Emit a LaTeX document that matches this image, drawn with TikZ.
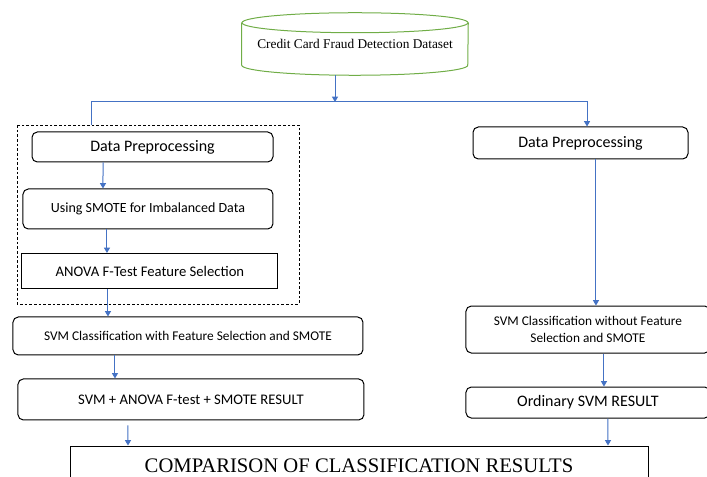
\documentclass[tikz,border=0pt]{standalone}
\usepackage{fontspec}
\setmainfont{Liberation Serif}
\setsansfont{Carlito}
\usetikzlibrary{arrows.meta}

\definecolor{flowblue}{HTML}{4472C4}
\definecolor{dbgreen}{HTML}{70AD47}

\tikzset{
  procbox/.style={draw, rounded corners=4pt, line width=0.75pt, align=center, inner sep=0pt},
  flatbox/.style={draw, line width=0.75pt, align=center, inner sep=0pt},
  flow/.style={draw=flowblue, line width=0.75pt, -{Triangle[length=4pt,width=4.5pt]}},
  dbline/.style={draw=dbgreen, line width=0.75pt},
}

\begin{document}
\begin{tikzpicture}[x=0.75pt, y=-0.75pt, node distance=46.5pt]
\useasboundingbox (0,0) rectangle (707,477);

% dataset
\node (data) [minimum width=169.5pt, minimum height=46.5pt, font=\fontsize{10}{12}\selectfont] at (355,44) {Credit Card Fraud Detection Dataset};
\draw[dbline] ([yshift=-7.5pt]data.north) ellipse [x radius=84.75pt, y radius=7.5pt];
\draw[dbline] ([yshift=-7.5pt]data.north west) -- ([yshift=7.5pt]data.south west) arc [start angle=180, end angle=360, x radius=84.75pt, y radius=7.5pt] -- ([yshift=-7.5pt]data.north east);

% left branch
\draw[dash pattern=on 2pt off 1.5pt, line width=0.6pt] (17,125) rectangle (299,304);
\node (lprep) [procbox, minimum width=180.75pt, minimum height=22.5pt, font=\sffamily\fontsize{12}{14}\selectfont] at (152.5,147) {Data Preprocessing};
\node (smote) [procbox, below of=lprep, xshift=-3.4pt, minimum width=187.5pt, minimum height=30pt, font=\sffamily\fontsize{10.5}{13}\selectfont] {Using SMOTE for Imbalanced Data};
\node (anova) [flatbox, below of=smote, xshift=1.5pt, minimum width=192pt, minimum height=26.25pt, font=\sffamily\fontsize{11}{13}\selectfont] {ANOVA F-Test Feature Selection};
\node (lsvm) [procbox, below of=anova, xshift=28.5pt, yshift=-2.25pt, minimum width=262.5pt, minimum height=28.5pt, font=\sffamily\fontsize{10}{12}\selectfont] {SVM Classification with Feature Selection and SMOTE};
\node (lres) [procbox, below of=lsvm, xshift=2.25pt, yshift=-1.1pt, minimum width=259.5pt, minimum height=30.75pt, font=\sffamily\fontsize{11}{13}\selectfont] {SVM + ANOVA F-test + SMOTE RESULT};

% right branch
\node (rprep) [procbox, minimum width=161.25pt, minimum height=24pt, font=\sffamily\fontsize{12}{14}\selectfont] at (580.5,143) {Data Preprocessing};
\node (rsvm) [procbox, below of=rprep, xshift=5.6pt, yshift=-93.4pt, minimum width=183pt, minimum height=35.25pt, font=\sffamily\fontsize{10}{12.75}\selectfont] {SVM Classification without Feature\\Selection and SMOTE};
\node (rres) [procbox, below of=rsvm, yshift=-8.25pt, minimum width=183pt, minimum height=23.25pt, font=\sffamily\fontsize{12}{14}\selectfont] {Ordinary SVM RESULT};

% comparison
\node (cmp) [flatbox, minimum width=433.5pt, minimum height=30pt, font=\rmfamily\fontsize{15.5}{18}\selectfont] at (359,466) {COMPARISON OF CLASSIFICATION RESULTS};

% connectors
\coordinate (split) at (335,102);
\coordinate (lin) at (91,125);
\coordinate (rin) at ([xshift=4.9pt]rprep.north);
\draw[flow] (data.south -| split) -- (split);
\draw[flow] (lin) |- (rin |- split) -- (rin);
\draw[flow] ([xshift=-37.1pt]lprep.south) -- ([xshift=-33.75pt]smote.north);
\draw[flow] ([xshift=-30.75pt]smote.south) -- ([xshift=-32.25pt]anova.north);
\draw[flow] ([xshift=-31.5pt]anova.south) -- ([xshift=-60pt]lsvm.north);
\draw[flow] ([xshift=-54.75pt]lsvm.south) -- ([xshift=-57pt]lres.north);
\draw[flow] ([xshift=-47.25pt,yshift=-3.75pt]lres.south) -- ([xshift=-173.25pt]cmp.north);
\draw[flow] ([xshift=11.6pt]rprep.south) -- ([xshift=6pt]rsvm.north);
\draw[flow] ([xshift=12pt]rsvm.south) -- ([xshift=12pt]rres.north);
\draw[flow] ([xshift=15pt]rres.south) -- ([xshift=186.75pt]cmp.north);
\end{tikzpicture}
\end{document}
